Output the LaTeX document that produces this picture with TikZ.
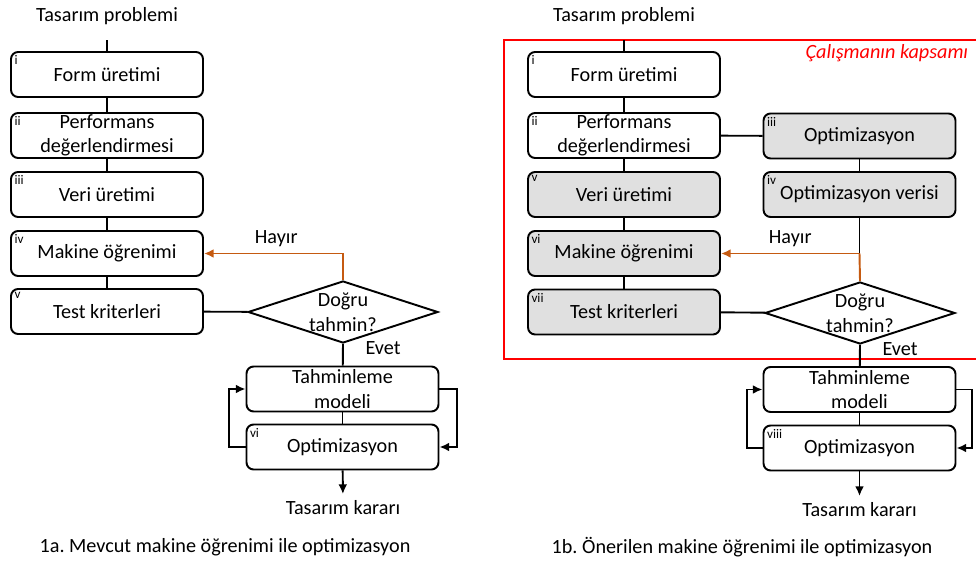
\documentclass[tikz,border=0pt]{standalone}
\usepackage{fontspec}
\setmainfont{Carlito}
\usetikzlibrary{shapes.geometric,arrows.meta}
\definecolor{akis}{RGB}{197,90,17}
\definecolor{kutugri}{RGB}{224,224,224}
\frenchspacing

\begin{document}
\begin{tikzpicture}[x=0.02cm, y=-0.02cm, line width=1.1pt,
  >={Latex[length=5.5pt,width=5pt]},
  font=\fontsize{11.5}{14}\selectfont,
  kutu/.style={draw, rounded corners=4pt, minimum width=3.84cm, minimum height=0.9cm,
    align=center, inner sep=0pt},
  gri/.style={kutu, fill=kutugri},
  sira/.style={label={[anchor=north west, inner sep=2pt, font=\fontsize{7.5}{7.5}\selectfont]north west:#1}},
  karar/.style={draw, diamond, minimum width=3.8cm, minimum height=1.24cm, inner sep=0pt}]
\useasboundingbox (0,0) rectangle (976,563);

% 1a: mevcut yontem
\node (p1) at (107,16) {Tasarım problemi};
\node[kutu, sira=i] (a1) at (107,74.5) {Form üretimi};
\node[kutu, sira=ii] (a2) at (107,135.5) {Performans\\değerlendirmesi};
\node[kutu, sira=iii] (a3) at (107,194.5) {Veri üretimi};
\node[kutu, sira=iv] (a4) at (107,253.5) {Makine öğrenimi};
\node[kutu, sira=v] (a5) at (107,311.5) {Test kriterleri};
\node[karar, label={[align=center]center:Doğru\\tahmin?}] (a6) at (343,312) {};
\node[kutu] (a7) at (342.5,389) {Tahminleme\\modeli};
\node[kutu, sira=vi] (a8) at (342.5,447) {Optimizasyon};
\node (k1) at (343,508) {Tasarım kararı};
\node (c1) at (225,547) {1a. Mevcut makine öğrenimi ile optimizasyon};

\draw[shorten <=5pt] (p1) -- (a1);
\draw (a1) -- (a2);
\draw (a2) -- (a3);
\draw (a3) -- (a4);
\draw (a4) -- (a5);
\draw (a5) -- (a6);
\draw[akis,->] (a6.north) |- node[pos=0.74, above, text=black] {Hayır} (a4.east);
\draw (a6.south) -- node[pos=0.2, right=9pt] {Evet} (a7);
\draw (a7) -- (a8);
\draw[->] (a8.west) -- ++(-17,0) |- (a7.west);
\draw[->] (a7.east) -- ++(18,0) |- (a8.east);
\draw[->] (a8) -- (k1);

% 1b: onerilen yontem
\node (p2) at (624,16) {Tasarım problemi};
\draw[red, line width=0.8pt] (976,40) -- (504,40) -- (504,359) -- (976,359);
\node[text=red, anchor=east, font=\fontsize{11.5}{14}\selectfont\itshape] (kapsam) at (975,53) {Çalışmanın kapsamı};
\node[kutu, sira=i] (b1) at (624,74.5) {Form üretimi};
\node[kutu, sira=ii] (b2) at (624,135.5) {Performans\\değerlendirmesi};
\node[gri, sira=iii] (b3) at (859.5,136) {Optimizasyon};
\node[gri, sira=iv] (b4) at (859.5,194.5) {Optimizasyon verisi};
\node[gri, sira=v] (b5) at (624,194.5) {Veri üretimi};
\node[gri, sira=vi] (b6) at (624,253.5) {Makine öğrenimi};
\node[gri, sira=vii] (b7) at (624,312) {Test kriterleri};
\node[karar, label={[align=center]center:Doğru\\tahmin?}] (b8) at (860,313) {};
\node[kutu] (b9) at (859.5,389.5) {Tahminleme\\modeli};
\node[kutu, sira=viii] (b10) at (859.5,448) {Optimizasyon};
\node (k2) at (859.5,510) {Tasarım kararı};
\node (c2) at (742,547) {1b. Önerilen makine öğrenimi ile optimizasyon};
\coordinate (kavsak) at (b4 |- b6);

\draw[shorten <=5pt] (p2) -- (b1);
\draw (b1) -- (b2);
\draw (b2) -- (b5);
\draw (b5) -- (b6);
\draw (b6) -- (b7);
\draw (b2) -- (b3);
\draw (b3) -- (b4);
\draw (b7) -- (b8);
\draw (b4) -- (kavsak);
\draw[akis] (b8.north) -- (kavsak);
\draw[akis,->] (kavsak) -- node[pos=0.5, above, text=black] {Hayır} (b6.east);
\draw (b8.south) -- node[pos=0.2, right=9pt] {Evet} (b9);
\draw (b9) -- (b10);
\draw[->] (b10.west) -- ++(-16,0) |- (b9.west);
\draw[->] (b9.east) -- ++(16,0) |- (b10.east);
\draw[->] (b10) -- (k2);
\end{tikzpicture}
\end{document}
